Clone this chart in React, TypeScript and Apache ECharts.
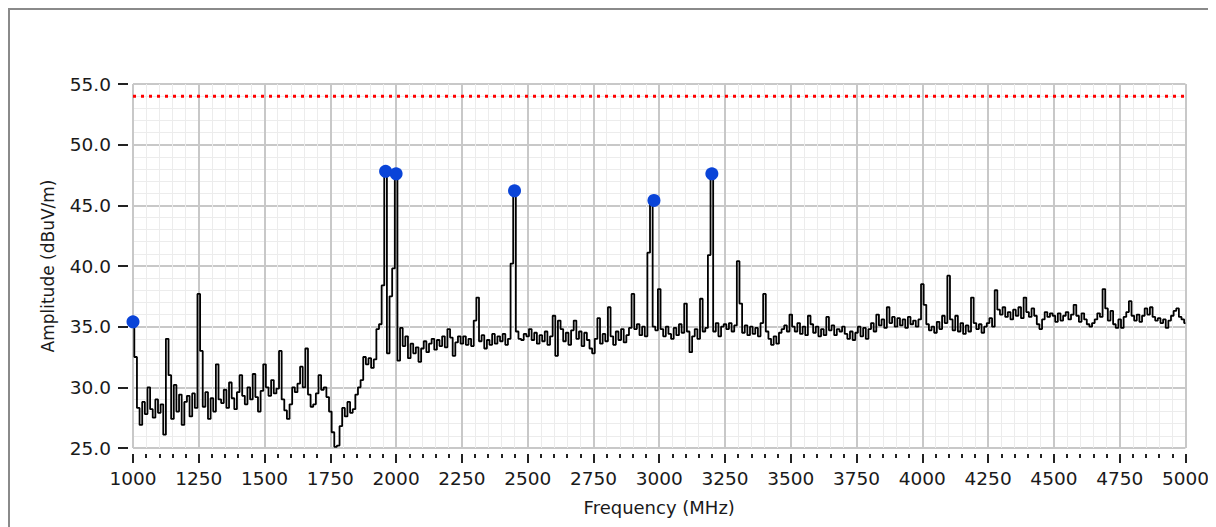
import React, { useEffect, useRef } from "react";
import * as echarts from "echarts";

// Frequency sweep: 1000 MHz to 5000 MHz, one reading every 10 MHz
const START_MHZ = 1000;
const STEP_MHZ = 10;

const amp_1000_1240 = [35.4, 32.5, 28.3, 26.9, 28.8, 27.8, 30.0, 28.2, 27.5, 29.0, 27.9, 28.6, 26.1, 34.0, 31.0, 27.4, 30.2, 28.0, 29.4, 26.9, 28.8, 29.3, 27.6, 29.5, 28.3];
const amp_1250_1490 = [37.7, 33.0, 28.4, 29.6, 27.4, 29.1, 28.0, 31.9, 29.0, 28.7, 29.8, 28.3, 30.4, 29.1, 28.2, 29.6, 31.0, 29.3, 28.6, 30.0, 29.0, 31.1, 29.2, 28.0, 29.7];
const amp_1500_1740 = [31.9, 30.0, 29.3, 30.6, 29.5, 29.9, 33.0, 29.0, 28.1, 27.4, 28.6, 30.0, 29.6, 30.3, 31.7, 30.0, 33.2, 29.4, 28.4, 28.6, 29.5, 31.0, 29.8, 30.0, 29.2];
const amp_1750_1990 = [28.0, 26.3, 25.1, 25.2, 26.8, 28.3, 27.6, 28.8, 27.9, 28.2, 29.4, 30.0, 30.6, 32.5, 31.9, 32.4, 31.6, 32.3, 34.8, 35.2, 38.4, 47.8, 32.8, 37.5, 39.8];
const amp_2000_2240 = [47.6, 32.2, 34.9, 33.4, 34.2, 32.4, 33.6, 32.8, 33.3, 32.1, 33.2, 33.8, 32.9, 33.6, 34.0, 33.1, 33.9, 33.4, 34.2, 33.3, 34.8, 34.1, 32.6, 33.7, 34.2];
const amp_2250_2490 = [33.6, 34.2, 33.5, 34.0, 33.4, 35.5, 37.4, 33.8, 34.3, 33.2, 33.9, 33.5, 34.4, 33.6, 34.2, 33.8, 34.4, 33.5, 34.0, 40.2, 46.2, 34.6, 34.0, 33.9, 34.4];
const amp_2500_2740 = [34.2, 34.8, 33.9, 34.5, 33.6, 34.3, 33.8, 34.6, 33.5, 34.2, 35.9, 32.6, 35.5, 34.8, 33.8, 34.5, 33.5, 34.7, 35.5, 34.0, 34.6, 33.4, 34.5, 33.9, 33.2];
const amp_2750_2990 = [32.8, 34.0, 35.7, 33.6, 34.4, 33.8, 36.6, 34.2, 33.5, 34.6, 33.9, 34.8, 33.7, 34.3, 34.9, 37.7, 34.8, 35.2, 34.3, 35.0, 34.2, 41.1, 45.4, 35.0, 34.7];
const amp_3000_3240 = [38.1, 34.8, 34.2, 35.0, 34.4, 34.0, 34.9, 34.3, 35.2, 34.5, 36.9, 34.6, 32.9, 34.2, 34.8, 34.0, 37.3, 34.6, 34.9, 40.9, 47.6, 34.6, 35.3, 34.2, 35.0];
const amp_3250_3490 = [35.2, 34.8, 35.3, 34.6, 35.1, 40.4, 36.9, 34.5, 35.1, 34.3, 35.0, 34.4, 34.9, 34.2, 35.3, 37.7, 34.6, 34.0, 33.5, 34.2, 33.6, 34.5, 34.8, 35.1, 34.6];
const amp_3500_3740 = [36.0, 35.0, 34.6, 35.3, 34.4, 35.0, 34.3, 35.9, 35.2, 34.5, 35.0, 34.2, 34.8, 34.3, 35.8, 34.7, 35.1, 34.3, 34.8, 34.6, 35.0, 34.4, 34.0, 34.6, 33.9];
const amp_3750_3990 = [34.5, 35.0, 34.2, 34.9, 34.0, 34.8, 35.3, 34.6, 36.0, 35.1, 35.6, 34.9, 36.6, 35.3, 35.8, 35.0, 35.7, 35.1, 35.6, 34.9, 35.8, 35.2, 35.5, 35.0, 35.6];
const amp_4000_4240 = [38.5, 36.8, 35.2, 34.7, 35.0, 34.5, 35.4, 34.8, 35.9, 35.3, 39.2, 35.6, 34.7, 35.9, 34.6, 35.3, 34.4, 35.1, 34.6, 37.4, 35.3, 34.8, 35.2, 34.5, 35.0];
const amp_4250_4490 = [35.3, 35.7, 35.0, 38.0, 36.4, 36.0, 36.6, 35.8, 36.2, 35.6, 36.4, 35.9, 36.6, 35.7, 37.4, 36.2, 35.8, 36.5, 35.9, 35.2, 34.8, 35.6, 36.2, 35.8, 36.1];
const amp_4500_4740 = [35.9, 35.4, 36.1, 35.5, 35.9, 36.2, 35.6, 36.0, 36.8, 35.9, 35.4, 36.1, 35.6, 35.2, 35.0, 35.3, 35.6, 36.1, 35.8, 38.1, 36.5, 35.5, 36.3, 35.2, 34.9];
const amp_4750_5000 = [35.6, 34.9, 35.8, 36.2, 37.1, 35.9, 35.5, 36.0, 35.4, 35.9, 36.5, 36.0, 36.6, 35.8, 35.5, 35.7, 35.3, 35.6, 34.9, 35.5, 35.9, 36.3, 36.5, 35.8, 35.6, 35.3];

// Peak markers
const markerFreqs = [1000, 1960, 2000, 2450, 2980, 3200];
const markerAmps = [35.4, 47.8, 47.6, 46.2, 45.4, 47.6];

// Limit line
const limitAmp = 54.0;

const X_MIN = 1000;
const X_MAX = 5000;
const X_STEP = 250;
const Y_MIN = 25;
const Y_MAX = 55;
const Y_STEP = 5;

const amplitudes = [
  ...amp_1000_1240, ...amp_1250_1490, ...amp_1500_1740, ...amp_1750_1990,
  ...amp_2000_2240, ...amp_2250_2490, ...amp_2500_2740, ...amp_2750_2990,
  ...amp_3000_3240, ...amp_3250_3490, ...amp_3500_3740, ...amp_3750_3990,
  ...amp_4000_4240, ...amp_4250_4490, ...amp_4500_4740, ...amp_4750_5000,
];

const FONT = "DejaVu Sans";

export default function App() {
  const ref = useRef<HTMLDivElement>(null);

  useEffect(() => {
    if (!ref.current) return;
    const chart = echarts.init(ref.current, undefined, { renderer: "svg" });
    const trace = amplitudes.map((a, i) => [START_MHZ + i * STEP_MHZ, a]);
    const markers = markerFreqs.map((f, i) => [f, markerAmps[i]]);
    chart.setOption({
      animation: false,
      backgroundColor: "#ffffff",
      grid: { left: 123, top: 74, width: 1054, height: 364, containLabel: false },
      xAxis: {
        type: "value",
        min: X_MIN,
        max: X_MAX,
        interval: X_STEP,
        offset: 6,
        axisLine: { show: false },
        axisTick: { show: true, length: 9, lineStyle: { color: "#222", width: 2 } },
        minorTick: { show: true, splitNumber: 5, length: 4, lineStyle: { color: "#222", width: 2 } },
        axisLabel: {
          color: "#1a1a1a",
          fontSize: 18.5,
          fontFamily: FONT,
          margin: 15,
          formatter: (v: number) => String(v),
        },
        splitLine: { show: true, lineStyle: { color: "#c8c8c8", width: 2 } },
        minorSplitLine: { show: true, lineStyle: { color: "#ececec", width: 1 } },
        name: "Frequency (MHz)",
        nameLocation: "middle",
        nameGap: 44,
        nameTextStyle: { color: "#1a1a1a", fontSize: 18, fontFamily: FONT },
      },
      yAxis: {
        type: "value",
        min: Y_MIN,
        max: Y_MAX,
        interval: Y_STEP,
        offset: 5,
        axisLine: { show: false },
        axisTick: { show: true, length: 10, lineStyle: { color: "#222", width: 2 } },
        minorTick: { show: false, splitNumber: 5 },
        axisLabel: {
          color: "#1a1a1a",
          fontSize: 18.5,
          fontFamily: FONT,
          margin: 17,
          formatter: (v: number) => v.toFixed(1),
        },
        splitLine: { show: true, lineStyle: { color: "#c8c8c8", width: 2 } },
        minorSplitLine: { show: true, lineStyle: { color: "#ececec", width: 1 } },
        name: "Amplitude (dBuV/m)",
        nameLocation: "middle",
        nameGap: 72,
        nameTextStyle: { color: "#1a1a1a", fontSize: 17, fontFamily: FONT },
      },
      series: [
        {
          type: "line",
          data: [[X_MIN, limitAmp], [X_MAX, limitAmp]],
          showSymbol: false,
          lineStyle: { color: "#ff0000", width: 3, type: [3, 5], cap: "butt" },
          z: 2,
          silent: true,
        },
        {
          type: "line",
          data: trace,
          step: "middle",
          showSymbol: false,
          lineStyle: { color: "#000000", width: 1.8 },
          z: 3,
          silent: true,
        },
        {
          type: "scatter",
          data: markers,
          symbol: "circle",
          symbolSize: 13,
          itemStyle: { color: "#0a44d8", opacity: 1 },
          z: 4,
          silent: true,
        },
      ],
    });
    return () => chart.dispose();
  }, []);

  return (
    <div
      style={{
        width: 1206,
        height: 519,
        boxSizing: "border-box",
        border: "2px solid #8a8a8a",
        borderBottom: "none",
        background: "#ffffff",
      }}
    >
      <div ref={ref} style={{ width: 1202, height: 517 }} />
    </div>
  );
}
